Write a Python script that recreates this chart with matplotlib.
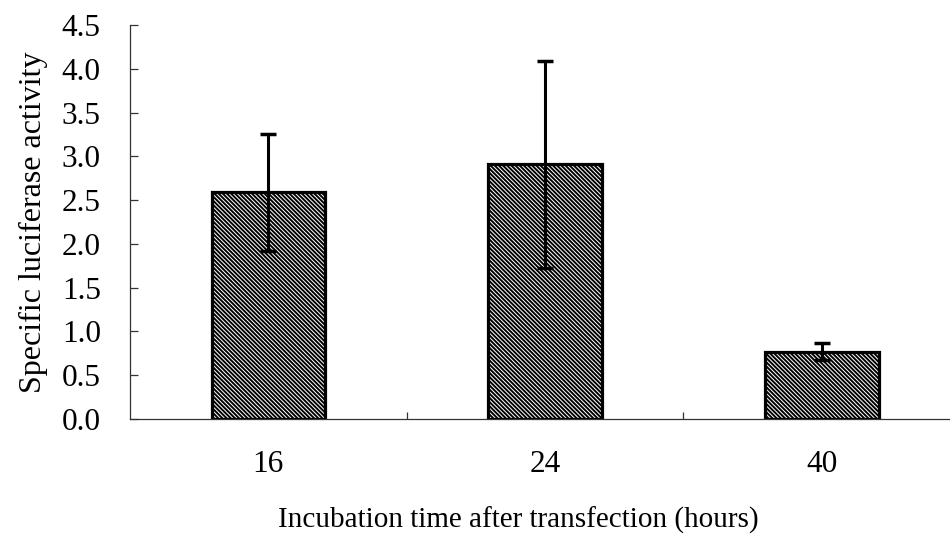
import matplotlib
matplotlib.use("Agg")
import matplotlib.pyplot as plt
import numpy as np

categories = ["16", "24", "40"]
values = [2.59, 2.91, 0.77]
errors = [0.67, 1.18, 0.10]
yticks = [0.0, 0.5, 1.0, 1.5, 2.0, 2.5, 3.0, 3.5, 4.0, 4.5]

plt.rcParams['font.family'] = ['Liberation Serif', 'DejaVu Serif']
plt.rcParams['hatch.linewidth'] = 1.4

fig = plt.figure(figsize=(9.5, 5.41), dpi=100)
ax = fig.add_axes([130/950, (541-419)/541, 820/950, (419-25)/541])

x = np.arange(len(categories))
ax.bar(x, values, width=0.41, facecolor='white', edgecolor='black',
       linewidth=2.3, hatch='\\\\\\\\\\\\\\\\', zorder=2)
ax.errorbar(x, values, yerr=errors, fmt='none', ecolor='black',
            elinewidth=2.2, capsize=6, capthick=2.5, zorder=3)

ax.set_xlim(-0.5, 2.463)
ax.set_ylim(0, 4.5)
ax.set_yticks(yticks)
ax.set_yticklabels([f"{v:.1f}" for v in yticks])
ax.set_xticks(x)
ax.set_xticklabels(categories)
ax.set_xticks([0.5, 1.5], minor=True)

for s in ['top', 'right']:
    ax.spines[s].set_visible(False)
for s in ['left', 'bottom']:
    ax.spines[s].set_linewidth(0.9)
    ax.spines[s].set_color('#333333')

ax.tick_params(axis='y', direction='in', length=6, width=0.9, pad=21,
               labelsize=22.5, color='#333333')
ax.tick_params(axis='x', which='major', length=0, pad=22, labelsize=22.5)
ax.tick_params(axis='x', which='minor', direction='in', length=5, width=0.9,
               color='#333333')

ax.set_ylabel("Specific luciferase activity", fontsize=23, labelpad=10)
ax.set_xlabel("Incubation time after transfection (hours)", fontsize=21)
ax.xaxis.set_label_coords(0.473, -0.222)

fig.savefig("out.png", dpi=100)
